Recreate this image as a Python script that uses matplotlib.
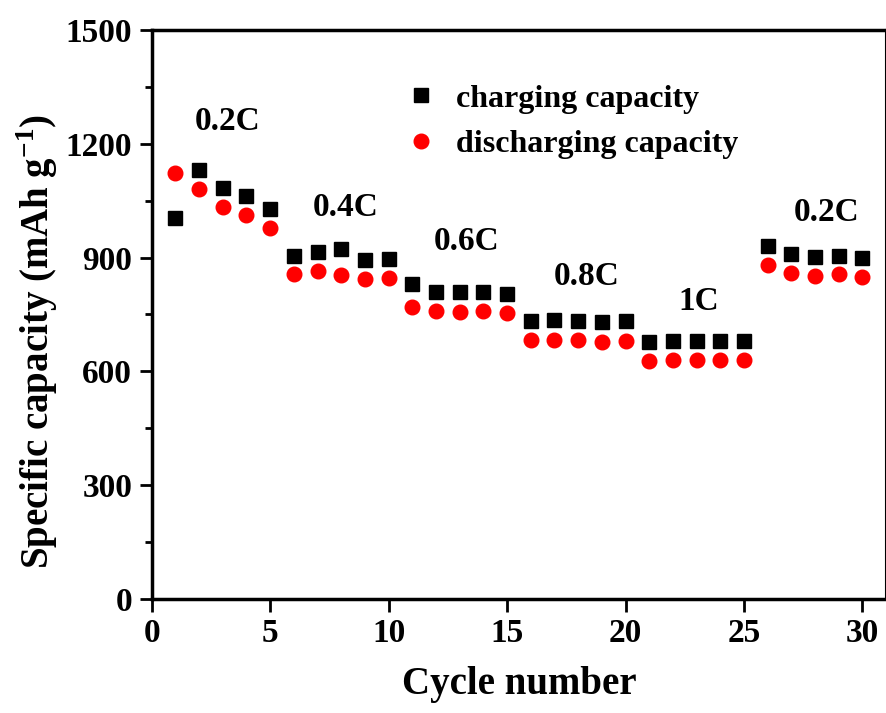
import matplotlib.pyplot as plt
import numpy as np

plt.rcParams['font.family'] = 'Liberation Serif'
plt.rcParams['font.weight'] = 'bold'
plt.rcParams['mathtext.fontset'] = 'custom'
plt.rcParams['mathtext.rm'] = 'Liberation Serif:bold'
plt.rcParams['mathtext.bf'] = 'Liberation Serif:bold'

cycles = np.arange(1, 31)
charge = [1004, 1131, 1084, 1061, 1027,
          905, 914, 923, 894, 896,
          830, 810, 809, 809, 804,
          733, 735, 733, 729, 733,
          677, 681, 681, 681, 681,
          931, 910, 902, 905, 898]
discharge = [1124, 1081, 1034, 1011, 977,
             857, 865, 853, 843, 845,
             769, 760, 757, 759, 753,
             683, 682, 682, 678, 681,
             627, 630, 631, 631, 631,
             881, 860, 852, 856, 848]

rates = ['0.2C', '0.4C', '0.6C', '0.8C', '1C', '0.2C']
rate_x = [3.2, 8.2, 13.3, 18.35, 23.1, 28.5]
rate_y = [1258, 1033, 941, 849, 785, 1020]

fig = plt.figure(figsize=(8.87, 7.13), dpi=100)
ax = fig.add_axes([0.171, 0.160, 0.828, 0.798])

ax.plot(cycles, charge, 's', color='black', markersize=9.5, label='charging capacity')
ax.plot(cycles, discharge, 'o', color='red', markersize=10.5, label='discharging capacity')

for t, x, y in zip(rates, rate_x, rate_y):
    ax.text(x, y, t, fontsize=24, fontweight='bold', ha='center', va='center')

ax.set_xlim(0, 31)
ax.set_ylim(0, 1500)
ax.set_xticks(range(0, 31, 5))
ax.set_yticks(range(0, 1501, 300))
ax.set_yticks(range(150, 1500, 300), minor=True)
ax.tick_params(which='major', direction='out', length=9, width=2, labelsize=24, pad=5)
ax.tick_params(which='minor', direction='out', length=5, width=2)
for lab in ax.get_xticklabels() + ax.get_yticklabels():
    lab.set_fontweight('bold')

for s in ['left', 'bottom', 'top']:
    ax.spines[s].set_linewidth(2.5)
ax.spines['right'].set_linewidth(1.5)

ax.set_xlabel('Cycle number', fontsize=28, fontweight='bold', labelpad=12)
ax.set_ylabel(r'Specific capacity (mAh g$^{\mathbf{-1}}$)', fontsize=28,
              fontweight='bold')
ax.yaxis.set_label_coords(-0.125, 0.452)

ax.legend(loc='upper left', bbox_to_anchor=(0.31, 0.955), frameon=False,
          handlelength=0.8, handletextpad=0.7, labelspacing=0.5,
          prop={'weight': 'bold', 'size': 23})

fig.savefig('out.png', dpi=100)
